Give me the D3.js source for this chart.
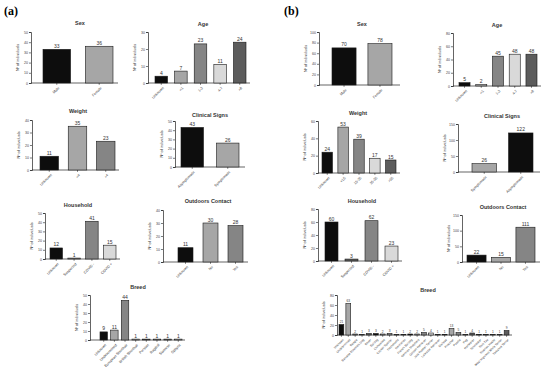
<!DOCTYPE html>
<html>
<head>
<meta charset="utf-8">
<script src="https://cdn.jsdelivr.net/npm/d3@7"></script>
<style>
  body { margin: 0; background: #fff; }
  svg { display: block; font-family: 'Liberation Sans', Arial, sans-serif; }
</style>
</head>
<body>
<svg id="chart" width="550" height="373"></svg>
<script>
// ---- data: (a) cats ----
const sexCatsA = ['Male', 'Female']
const sexValsA = [33, 36]
const ageCatsA = ['Unknown', '<1', '1-3', '4-7', '>8']
const ageValsA = [4, 7, 23, 11, 24]
const weightCatsA = ['Unknown', '<4', '>4']
const weightValsA = [11, 35, 23]
const clinicalCatsA = ['Asymptomatic', 'Symptomatic']
const clinicalValsA = [43, 26]
const householdCatsA = ['Unknown', 'Suspected', 'COVID -', 'COVID +']
const householdValsA = [12, 1, 41, 15]
const outdoorsCatsA = ['Unknown', 'No', 'Yes']
const outdoorsValsA = [11, 30, 28]
const breedCatsA = ['Unknown', 'Undetermined', 'European Shorthair', 'British Shorthair',
  'Persian', 'Ragdoll', 'Siamese', 'Sphynx']
const breedValsA = [9, 11, 44, 1, 1, 1, 1, 1]

// ---- data: (b) dogs ----
const sexCatsB = ['Male', 'Female']
const sexValsB = [70, 78]
const ageCatsB = ['Unknown', '<1', '1-3', '4-7', '>8']
const ageValsB = [5, 2, 45, 48, 48]
const weightCatsB = ['Unknown', '<15', '15-25', '25-35', '>35']
const weightValsB = [24, 53, 39, 17, 15]
const clinicalCatsB = ['Symptomatic', 'Asymptomatic']
const clinicalValsB = [26, 122]
const householdCatsB = ['Unknown', 'Suspected', 'COVID -', 'COVID +']
const householdValsB = [60, 3, 62, 23]
const outdoorsCatsB = ['Unknown', 'No', 'Yes']
const outdoorsValsB = [22, 15, 111]
const breedCatsB = ['Unknown', 'Undetermined', 'Beagle', 'Bernese Mountain Dog', 'Boxer',
  'Bulldog', 'Chihuahua', 'Cocker Spaniel', 'Dachshund', 'Dalmatian', 'French Bulldog',
  'German Shepherd', 'Golden Retriever', 'Jack Russell Terrier', 'Labrador Retriever',
  'Maltese', 'Pinscher', 'Poodle', 'Pug', 'Rottweiler', 'Schnauzer', 'Shih Tzu',
  'Siberian Husky', 'West Highland White Terrier', 'Yorkshire Terrier']
const breedValsB = [21, 63, 2, 1, 3, 3, 2, 3, 1, 1, 2, 2, 5, 4, 1, 1, 13, 5, 1, 4, 1, 1, 1, 1, 9]

// ---- styles ----
const K = '#0d0d0d', LG = '#a6a6a6', G = '#858585', P = '#d9d9d9', D = '#5c5c5c'

// panel layout: y axis at x0, x axis ends at x1, bars span L..R
const panels = [
  { title: 'Sex', cats: sexCatsA, vals: sexValsA, x0: 31, x1: 118, L: 43, R: 113, pad: 0.35,
    yTop: 32, yBot: 83, max: 50, step: 10, tx: 80, ty: 25, colors: [K, LG] },
  { title: 'Age', cats: ageCatsA, vals: ageValsA, x0: 148, x1: 250, L: 155, R: 246, pad: 0.36,
    yTop: 32, yBot: 83, max: 30, step: 10, tx: 203, ty: 26, colors: [K, LG, G, P, D] },
  { title: 'Weight', cats: weightCatsA, vals: weightValsA, x0: 32, x1: 119, L: 40, R: 115, pad: 0.345,
    yTop: 120, yBot: 170, max: 40, step: 10, tx: 78, ty: 113, colors: [K, LG, G] },
  { title: 'Clinical Signs', cats: clinicalCatsA, vals: clinicalValsA, x0: 175, x1: 245, L: 181, R: 239, pad: 0.366,
    yTop: 121, yBot: 167, max: 50, step: 10, tx: 210, ty: 117, colors: [K, LG] },
  { title: 'Household', cats: householdCatsA, vals: householdValsA, x0: 45, x1: 120, L: 50, R: 116, pad: 0.3,
    yTop: 213, yBot: 259, max: 50, step: 10, tx: 78, ty: 207, colors: [K, LG, G, P] },
  { title: 'Outdoors Contact', cats: outdoorsCatsA, vals: outdoorsValsA, x0: 163, x1: 248, L: 178, R: 243, pad: 0.4,
    yTop: 210, yBot: 262, max: 40, step: 10, tx: 208, ty: 203, colors: [K, LG, G] },
  { title: 'Breed', cats: breedCatsA, vals: breedValsA, x0: 90, x1: 185, L: 100, R: 182, pad: 0.3,
    yTop: 295, yBot: 340, max: 50, step: 10, tx: 138, ty: 289, colors: [K, LG, G, P, D, LG, G, P] },

  { title: 'Sex', cats: sexCatsB, vals: sexValsB, x0: 319, x1: 400, L: 332, R: 392, pad: 0.33,
    yTop: 32, yBot: 85, max: 100, step: 20, tx: 362, ty: 26, colors: [K, LG] },
  { title: 'Age', cats: ageCatsB, vals: ageValsB, x0: 453, x1: 541, L: 459, R: 537, pad: 0.34,
    yTop: 33, yBot: 86, max: 80, step: 20, tx: 497, ty: 27, colors: [K, LG, G, P, D] },
  { title: 'Weight', cats: weightCatsB, vals: weightValsB, x0: 318, x1: 400, L: 322, R: 396, pad: 0.34,
    yTop: 121, yBot: 173, max: 60, step: 20, tx: 358, ty: 115, colors: [K, LG, G, P, D] },
  { title: 'Clinical Signs', cats: clinicalCatsB, vals: clinicalValsB, x0: 458, x1: 540, L: 472, R: 533, pad: 0.33,
    yTop: 124, yBot: 172, max: 150, step: 50, tx: 502, ty: 118, colors: [LG, K] },
  { title: 'Household', cats: householdCatsB, vals: householdValsB, x0: 318, x1: 402, L: 325, R: 398, pad: 0.35,
    yTop: 209, yBot: 261, max: 80, step: 20, tx: 362, ty: 203, colors: [K, D, G, P] },
  { title: 'Outdoors Contact', cats: outdoorsCatsB, vals: outdoorsValsB, x0: 462, x1: 540, L: 467, R: 535, pad: 0.22,
    yTop: 215, yBot: 262, max: 150, step: 50, tx: 503, ty: 209, colors: [K, LG, G] },
  { title: 'Breed', cats: breedCatsB, vals: breedValsB, x0: 337, x1: 512, L: 339, R: 509, pad: 0.3,
    yTop: 295, yBot: 335, max: 80, step: 20, tx: 428, ty: 292, colors: [K, LG, G, P, D] },
]

const svg = d3.select('#chart')

svg.append('rect').attr('width', 550).attr('height', 373).attr('fill', '#fff')

// panel letters
svg.append('text').attr('x', 4).attr('y', 15).text('(a)')
  .style('font-family', "'Liberation Serif', 'Times New Roman', serif")
  .style('font-weight', 'bold').style('font-size', '12px')
svg.append('text').attr('x', 284).attr('y', 15).text('(b)')
  .style('font-family', "'Liberation Serif', 'Times New Roman', serif")
  .style('font-weight', 'bold').style('font-size', '12px')

panels.forEach((p) => {
  const g = svg.append('g')
  const n = p.cats.length

  // first bar's left edge at L, last bar's right edge at R
  const x = d3.scaleBand()
    .domain(p.cats)
    .range([p.L, p.R])
    .paddingInner(p.pad)
    .paddingOuter(0)

  const y = d3.scaleLinear().domain([0, p.max]).range([p.yBot, p.yTop])

  // title
  g.append('text')
    .attr('x', p.tx).attr('y', p.ty)
    .attr('text-anchor', 'middle')
    .style('font-size', '5.5px').style('font-weight', 'bold').style('fill', '#333')
    .text(p.title)

  // y axis
  const yAxis = d3.axisLeft(y)
    .tickValues(d3.range(0, p.max + 0.001, p.step))
    .tickSize(2).tickPadding(1)
  const ya = g.append('g').attr('transform', `translate(${p.x0},0)`).call(yAxis)
  ya.select('.domain').attr('stroke', '#222').attr('stroke-width', 0.7)
  ya.selectAll('.tick line').attr('stroke', '#222').attr('stroke-width', 0.6)
  ya.selectAll('.tick text').style('font-size', '3.6px').style('fill', '#444')
    .style('font-family', "'Liberation Sans', Arial, sans-serif")

  // y label
  g.append('text')
    .attr('transform', `translate(${p.x0 - 12},${(p.yTop + p.yBot) / 2}) rotate(-90)`)
    .attr('text-anchor', 'middle')
    .style('font-size', '3.8px').style('fill', '#333')
    .text('Nº of individuals')

  // x axis line
  g.append('line')
    .attr('x1', p.x0).attr('x2', p.x1)
    .attr('y1', p.yBot).attr('y2', p.yBot)
    .attr('stroke', '#222').attr('stroke-width', 0.7)

  // bars
  g.selectAll('rect.bar')
    .data(p.cats)
    .join('rect')
    .attr('class', 'bar')
    .attr('x', (d) => x(d))
    .attr('y', (d, i) => y(p.vals[i]))
    .attr('width', x.bandwidth())
    .attr('height', (d, i) => p.yBot - y(p.vals[i]))
    .attr('fill', (d, i) => p.colors[i % p.colors.length])
    .attr('stroke', '#1a1a1a')
    .attr('stroke-width', 0.6)

  // value labels
  g.selectAll('text.val')
    .data(p.cats)
    .join('text')
    .attr('class', 'val')
    .attr('x', (d) => x(d) + x.bandwidth() / 2)
    .attr('y', (d, i) => y(p.vals[i]) - 1.5)
    .attr('text-anchor', 'middle')
    .style('font-size', n > 10 ? '3.2px' : '5px')
    .style('fill', '#333')
    .text((d, i) => p.vals[i])

  // x ticks and rotated labels
  const xt = g.selectAll('g.xt')
    .data(p.cats)
    .join('g')
    .attr('class', 'xt')
    .attr('transform', (d) => `translate(${x(d) + x.bandwidth() / 2},${p.yBot})`)
  xt.append('line').attr('y2', 1.8).attr('stroke', '#222').attr('stroke-width', 0.6)
  xt.append('text')
    .attr('transform', 'translate(1,3.5) rotate(-45)')
    .attr('text-anchor', 'end')
    .attr('dy', '0.7em')
    .style('font-size', n > 10 ? '3px' : '3.6px')
    .style('fill', '#333')
    .text((d) => d)
})
</script>
</body>
</html>
